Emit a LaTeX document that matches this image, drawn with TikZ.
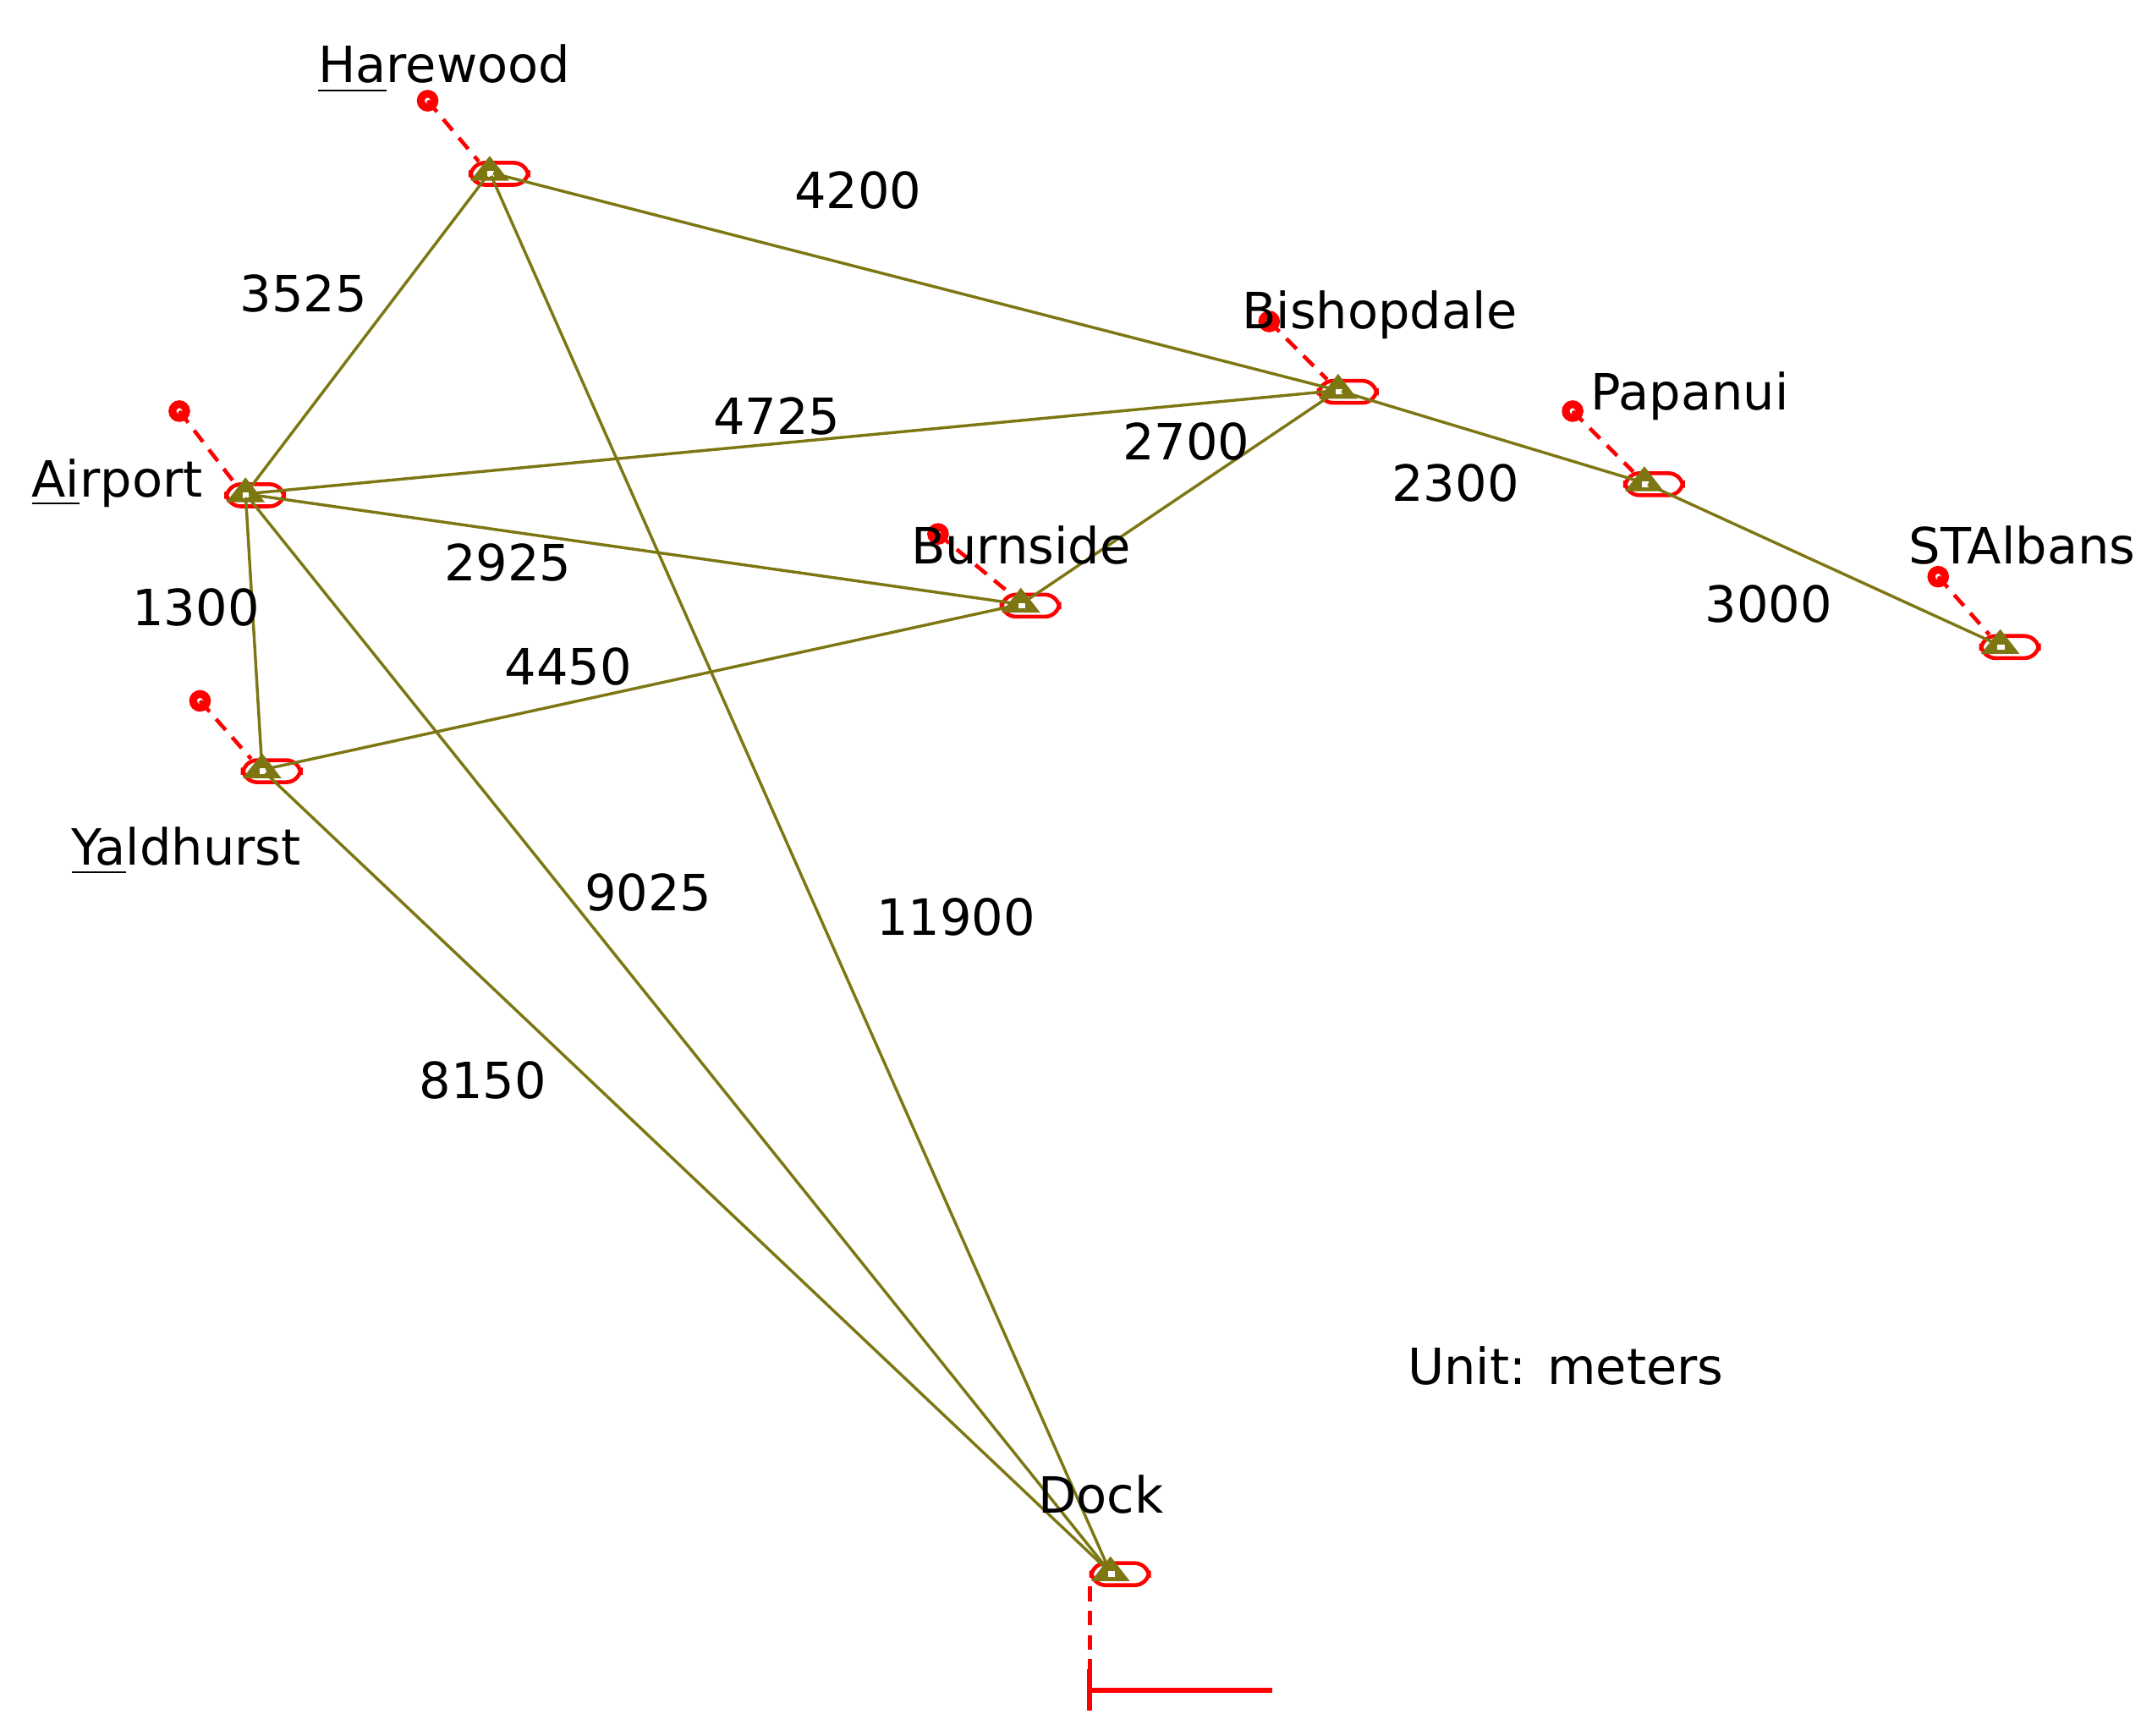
\documentclass[tikz,border=0pt]{standalone}
\usepackage{fontspec}
\setmainfont{DejaVu Sans}
\usetikzlibrary{calc}
\begin{document}
\begin{tikzpicture}[x=0.1mm,y=-0.1mm,
  edge/.style={draw=olive!85!black,line width=0.6pt},
  lbl/.style={font=\fontsize{10.3}{12}\selectfont,inner sep=0pt},
  stn/.style={inner sep=0pt,minimum size=1pt},
  pin/.style={red,densely dashed,line width=0.8pt}]
\useasboundingbox (0,0) rectangle (1560,1258);
\newcommand{\station}[3]{% name, x, y
  \node[stn] (#1) at (#2,#3) {};
  \draw[red,line width=0.8pt,rounded corners=3] ($(#1)+(-14,-7)$) rectangle ($(#1)+(28,9)$);
  \fill[olive!85!black] ($(#1)+(-14,6)$) -- ($(#1)+(0,-12)$) -- ($(#1)+(14,6)$) -- cycle;
  \fill[white] ($(#1)+(-2,-1)$) rectangle ($(#1)+(3,3)$);
}
\station{Har}{355}{125}
\station{Air}{178}{358}
\station{Yal}{190}{558}
\station{Bur}{740}{438}
\station{Bis}{970}{283}
\station{Pap}{1192}{350}
\station{STA}{1450}{468}
\station{Dock}{805}{1140}
\draw[edge] (Har) -- (Bis); \draw[edge] (Har) -- (Air); \draw[edge] (Har) -- (Dock);
\draw[edge] (Air) -- (Bis); \draw[edge] (Air) -- (Bur); \draw[edge] (Air) -- (Yal);
\draw[edge] (Air) -- (Dock); \draw[edge] (Yal) -- (Bur); \draw[edge] (Yal) -- (Dock);
\draw[edge] (Bur) -- (Bis); \draw[edge] (Bis) -- (Pap); \draw[edge] (Pap) -- (STA);
\foreach \n/\px/\py in {Har/310/73, Air/130/298, Yal/145/508, Bis/920/233, Pap/1140/298, Bur/680/387, STA/1405/418}{
  \coordinate (p\n) at (\px,\py);
  \draw[pin] (p\n) -- ($(\n)+(-8,-8)$);
  \draw[red,line width=1.6pt] (p\n) circle (5);
}
\coordinate (d1) at (790,1150); \coordinate (d2) at (790,1240); \coordinate (d3) at (922,1225);
\draw[pin] (d1) -- (790,1215);
\draw[red,line width=1pt] (790,1210) -- (d2);
\draw[red,line width=1pt] (790,1225) -- (d3);
\foreach \t/\x/\y in {4200/622/138, 3525/220/213, 4725/563/302, 2700/860/320, 2300/1055/350, 3000/1282/438, 2925/368/408, 1300/142/440, 4450/412/483, 9025/470/647, 11900/693/665, 8150/350/783}
  \node[lbl] (l\t) at (\x,\y) {\t};
\node[lbl] (unit) at (1135,990) {Unit: meters};
\node[lbl] (nHar) at (322,50) {\underline{Ha}rewood};
\node[lbl] (nAir) at (85,350) {\underline{Ai}rport};
\node[lbl] (nYal) at (135,617) {\underline{Ya}ldhurst};
\node[lbl] (nBis) at (1000,228) {Bishopdale};
\node[lbl] (nPap) at (1225,287) {Papanui};
\node[lbl] (nBur) at (740,395) {Burnside};
\node[lbl] (nSTA) at (1466,395) {STAlbans};
\node[lbl] (nDock) at (798,1083) {Dock};
\end{tikzpicture}
\end{document}
